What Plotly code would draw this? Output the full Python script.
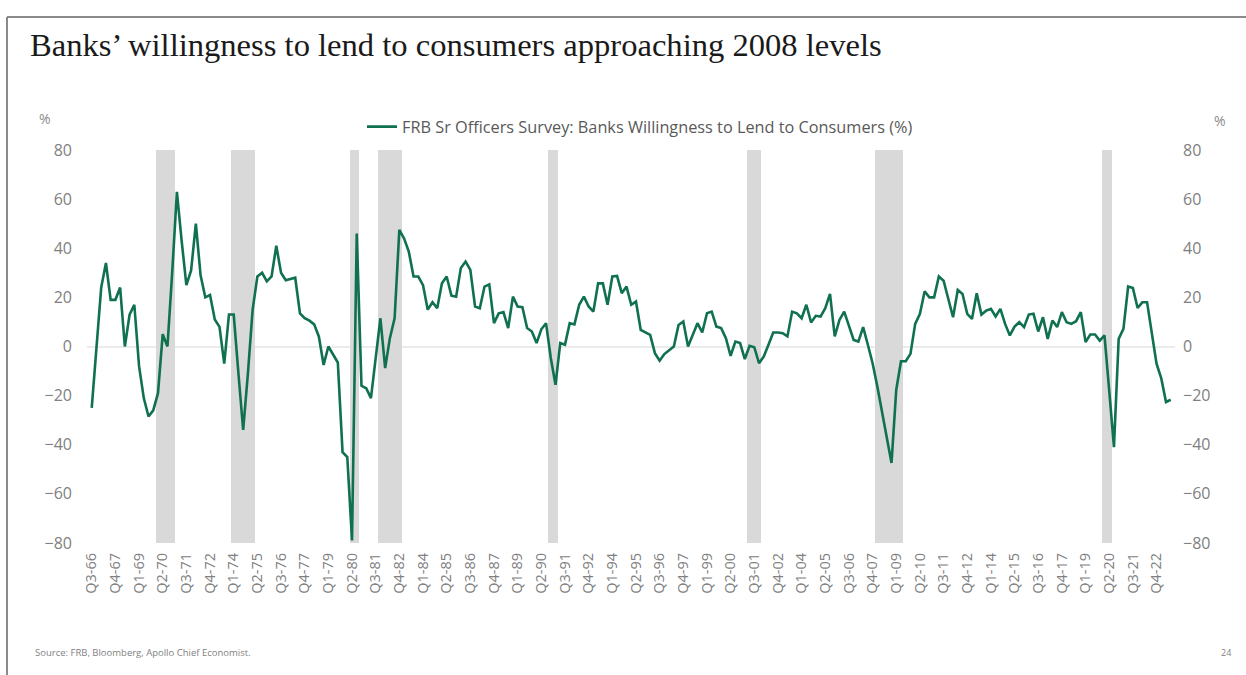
import plotly.graph_objects as go

# ---------------- data ----------------
start_year, start_q = 1966, 3
n_quarters = 229
quarters = []
y, q = start_year, start_q
for _ in range(n_quarters):
    quarters.append(f"Q{q}-{y % 100:02d}")
    q += 1
    if q == 5:
        q = 1
        y += 1

willingness = [
    -25, 0, 24, 34, 19, 19, 24, 0, 13, 17,
    -8, -21, -28.5, -26, -19, 5, 0, 30, 63, 43,
    25, 31, 50, 29, 20, 21, 11, 8, -7, 13,
    13, -11, -34, -11, 15, 28.5, 30, 26.5, 28.5, 41,
    30, 27, 27.5, 28, 13.5, 11.5, 10.5, 9, 4, -7.5,
    0, -3.5, -6.5, -43, -45, -79, 46, -16, -17, -21,
    -3.4, 11.5, -8.8, 3.4, 11.5, 47.5, 44, 38.6, 28.5, 28.5,
    25, 15, 18, 15.6, 25.7, 28.5, 20.7, 20.3, 32, 34.6,
    31.2, 16.3, 15.6, 24.4, 25.3, 9.5, 13.5, 14, 7.5, 20.3,
    16.3, 16, 7.5, 6.1, 1.4, 7, 9.5, -4.7, -15.6, 1.4,
    0.7, 9.5, 9, 17, 20.3, 16.3, 14.2, 25.7, 25.7, 17,
    28.5, 28.7, 21.7, 24.4, 17, 18.3, 6.8, 5.7, 4.7, -2.7,
    -5.8, -3.1, -1.4, 0, 8.8, 10.2, 0, 4.7, 9.5, 5.7,
    13.5, 14.2, 8.1, 7.5, 3.4, -3.8, 2, 1.4, -5.1, 0.3,
    -0.3, -6.8, -4.1, 0.7, 5.7, 5.7, 5.4, 4.1, 14.2, 13.5,
    11.5, 17, 9.8, 12.5, 12.2, 15.6, 21.4, 4.1, 10.8, 14.2,
    8.1, 2.7, 2, 7.9, 0.7, -6.8, -16.3, -27, -37, -47.4,
    -17.6, -6, -6, -3, 9.2, 13.3, 22.5, 20, 20, 28.5,
    26.8, 19.4, 11.9, 23, 21.4, 13.3, 11.2, 21.7, 13, 14.6,
    15.3, 12.2, 15.3, 9.2, 4.5, 8.1, 9.9, 7.9, 13, 13.3,
    6.1, 11.9, 3.1, 10.6, 7.9, 14, 9.9, 9.2, 10.3, 14,
    1.8, 4.9, 4.9, 2.4, 4.5, -18, -41, 3.1, 7.2, 24.4,
    23.8, 15.7, 18, 18, 5.1, -7, -13, -22.6, -21.7,
]

recession_periods = [
    ("Q1-70", "Q4-70"), ("Q1-74", "Q1-75"), ("Q2-80", "Q3-80"),
    ("Q4-81", "Q4-82"), ("Q4-90", "Q1-91"), ("Q2-01", "Q4-01"),
    ("Q1-08", "Q2-09"), ("Q1-20", "Q2-20"),
]

label_step = 5
y_ticks = [-80, -60, -40, -20, 0, 20, 40, 60, 80]

# ---------------- build ----------------
xidx = list(range(len(willingness)))
rec_x = []
for a, b in recession_periods:
    rec_x.extend(range(quarters.index(a), quarters.index(b) + 1))

tickvals = list(range(0, len(quarters) - 2, label_step))
ticktext = [quarters[i] for i in tickvals]

W, H = 1246, 675
L, R, T, B = 87, 1175, 150, 543


def px(x):
    return (x - L) / (R - L)


def py(y):
    return (B - y) / (B - T)


fig = go.Figure()
fig.add_trace(go.Bar(
    x=rec_x, y=[160] * len(rec_x), base=-80, width=1,
    marker=dict(color="#d9d9d9", line=dict(width=0)),
    showlegend=False, hoverinfo="skip", yaxis="y",
))
fig.add_trace(go.Scatter(
    x=xidx, y=willingness, mode="lines", yaxis="y2",
    name="FRB Sr Officers Survey: Banks Willingness to Lend to Consumers (%)",
    line=dict(color="#10714f", width=2.6),
))

axis_font = dict(family="Open Sans", size=16, color="#808080")

fig.update_layout(
    width=W, height=H,
    margin=dict(l=L, r=W - R, t=T, b=H - B),
    paper_bgcolor="white", plot_bgcolor="white",
    showlegend=True,
    legend=dict(orientation="h", x=px(640), xanchor="center", y=py(127), yanchor="middle",
                font=dict(family="Open Sans", size=16.3, color="#595959"),
                bgcolor="rgba(0,0,0,0)", itemwidth=30),
    xaxis=dict(range=[-1, 228.9], tickmode="array", tickvals=tickvals, ticktext=ticktext,
               tickangle=-90, tickfont=dict(family="Open Sans", size=14.5, color="#808080"),
               showgrid=False, zeroline=False, showline=False, ticks="",
               ticklabelstandoff=6),
    yaxis=dict(range=[-80, 80], tickvals=y_ticks, tickfont=axis_font, showgrid=False,
               zeroline=True, zerolinecolor="#ebebeb", zerolinewidth=2,
               showline=False, ticks="", ticklabelstandoff=14),
    yaxis2=dict(range=[-80, 80], tickvals=y_ticks, tickfont=axis_font, showgrid=False,
                zeroline=False, showline=False, ticks="", overlaying="y", side="right",
                ticklabelstandoff=7),
    bargap=0,
    title=dict(text="Banks\u2019 willingness to lend to consumers approaching 2008 levels",
               x=30 / W, xanchor="left", xref="container",
               y=1 - 45 / H, yanchor="middle", yref="container",
               font=dict(family="Liberation Serif", size=32.6, color="#1a1a1a")),
)

annos = [
    dict(text="%", x=px(45), y=py(119)),
    dict(text="%", x=px(1220), y=py(120)),
]
for a in annos:
    fig.add_annotation(text=a["text"], x=a["x"], y=a["y"], xref="paper", yref="paper",
                       xanchor="center", yanchor="middle", showarrow=False,
                       font=dict(family="Open Sans", size=14, color="#8c8c8c"))

fig.add_annotation(text="Source: FRB, Bloomberg, Apollo Chief Economist.", x=px(33), y=py(652),
                   xref="paper", yref="paper", xanchor="left", yanchor="middle", showarrow=False,
                   font=dict(family="Open Sans", size=9.5, color="#7f7f7f"))
fig.add_annotation(text="24", x=px(1226), y=py(652), xref="paper", yref="paper",
                   xanchor="center", yanchor="middle", showarrow=False,
                   font=dict(family="Open Sans", size=9, color="#7f7f7f"))

# slide frame
fig.add_shape(type="line", xref="paper", yref="paper", x0=px(7), x1=px(7), y0=py(17), y1=py(676),
              line=dict(color="#8a8a8a", width=2))
fig.add_shape(type="line", xref="paper", yref="paper", x0=px(7), x1=px(1247), y0=py(17), y1=py(17),
              line=dict(color="#8a8a8a", width=2))

fig.write_html("out.html", config={"displayModeBar": False},
               post_script="document.body.style.margin='0px';")
